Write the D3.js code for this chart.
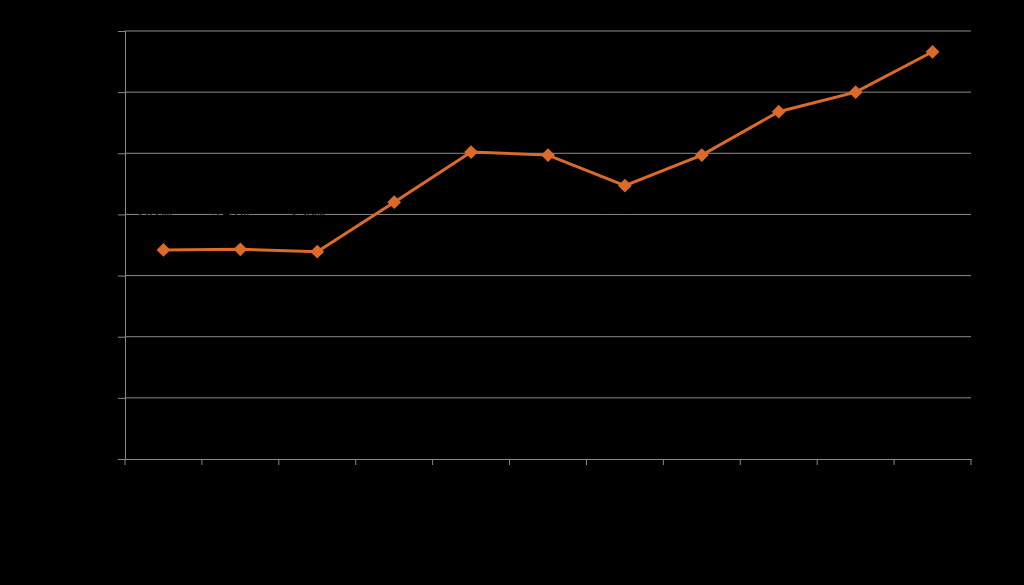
<!DOCTYPE html>
<html><head><meta charset="utf-8">
<script src="https://cdn.jsdelivr.net/npm/d3@7"></script>
<style>html,body{margin:0;padding:0;background:#000;}svg{display:block;}</style>
</head><body><svg id="c" width="1024" height="585"></svg>
<script>
const categories = ["2003","2004","2005","2006","2007","2008","2009","2010","2011","2012","2013"];
const values = [3.42, 3.43, 3.39, 4.20, 5.02, 4.97, 4.47, 4.97, 5.68, 6.00, 6.66];
const yTicks = [0,1,2,3,4,5,6,7];

const svg = d3.select("#c");
const m = {l:125, r:53, t:31, b:126};
const W = 1024, H = 585;
const x = d3.scaleBand().domain(categories).range([m.l, W-m.r]);
const y = d3.scaleLinear().domain([0,7]).range([H-m.b, m.t]);

svg.append("rect").attr("width",W).attr("height",H).attr("fill","#000");

svg.append("g").selectAll("line").data(yTicks.slice(1)).join("line")
  .attr("x1", m.l).attr("x2", W-m.r)
  .attr("y1", d=>y(d)).attr("y2", d=>y(d))
  .attr("stroke","#8a8a8a").attr("stroke-width",1);

const ya = svg.append("g").attr("transform",`translate(${m.l},0)`)
  .call(d3.axisLeft(y).tickValues(yTicks).tickSize(7).tickFormat(d=>d.toFixed(1)+"%"));
ya.selectAll("path,line").attr("stroke","#8a8a8a");
ya.selectAll("text").attr("fill","#000").style("font-family","Arial, Liberation Sans").style("font-size","13px");

const xa = svg.append("g").attr("transform",`translate(0,${H-m.b})`)
  .call(d3.axisBottom(x).tickSize(0).tickSizeOuter(0));
xa.select("path").attr("stroke","#8a8a8a");
xa.selectAll("text").attr("fill","#000").attr("dy","1.5em").style("font-family","Arial, Liberation Sans").style("font-size","13px");
svg.append("g").selectAll("line").data(categories.concat(["_end"])).join("line")
  .attr("x1",(d,i)=> i<categories.length ? x(d) : W-m.r)
  .attr("x2",(d,i)=> i<categories.length ? x(d) : W-m.r)
  .attr("y1",H-m.b).attr("y2",H-m.b+6).attr("stroke","#8a8a8a");

const cx = d=>x(d)+x.bandwidth()/2;
const line = d3.line().x((d,i)=>cx(categories[i])).y(d=>y(d));
svg.append("path").datum(values).attr("d",line).attr("fill","none")
  .attr("stroke","#DC6A28").attr("stroke-width",3);

svg.append("g").selectAll("path").data(values).join("path")
  .attr("d", d3.symbol(d3.symbolSquare, 95)())
  .attr("transform",(d,i)=>`translate(${cx(categories[i])},${y(d)}) rotate(45)`)
  .attr("fill","#DC6A28");

svg.append("g").selectAll("text").data(values).join("text")
  .attr("x",(d,i)=>cx(categories[i])-10)
  .attr("y",(d,i)=> i===6 ? y(d)+28 : y(d)-32)
  .attr("text-anchor","middle").attr("fill","#000")
  .style("font-family","Arial, Liberation Sans").style("font-size","13px")
  .text(d=>d.toFixed(2)+"%");
</script></body></html>
